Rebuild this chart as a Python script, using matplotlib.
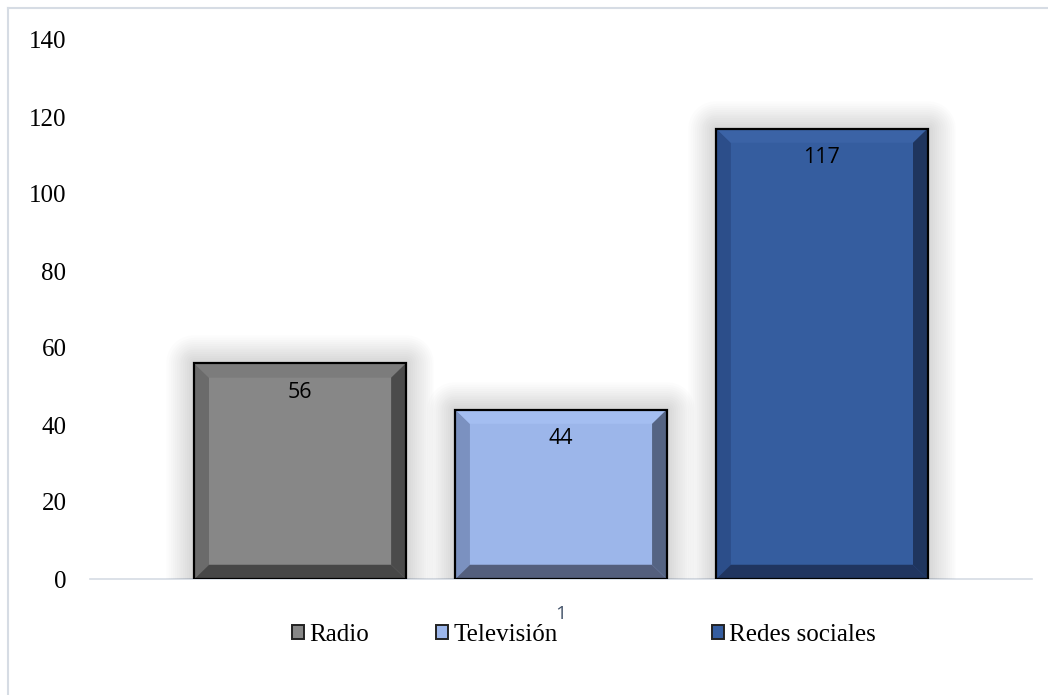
import numpy as np
import matplotlib
matplotlib.use("Agg")
import matplotlib.pyplot as plt
import matplotlib.patheffects as pe
from matplotlib.patches import Polygon, Patch
from matplotlib.lines import Line2D

# datos
categorias = ['Radio', 'Televisión', 'Redes sociales']
valores = [56, 44, 117]
yticks = [0, 20, 40, 60, 80, 100, 120, 140]
xlabel_cat = ['1']

# colores: cara, bisel sup, bisel izq, bisel der, bisel inf
colores = [
    ['#878787', '#7c7c7c', '#6b6b6b', '#4b4b4b', '#474747'],
    ['#9cb6ea', '#a4bef1', '#7b91c0', '#556483', '#545f7d'],
    ['#355d9f', '#3b63a6', '#2c4e8a', '#1f355e', '#203560'],
]

fig = plt.figure(figsize=(10.48, 6.95), dpi=100)
ax = fig.add_axes([90 / 1048, 1 - 579 / 695, (1032 - 90) / 1048, (579 - 40) / 695])

x = np.arange(len(valores)) - 1
ancho = 0.81

# sombra difusa alrededor de las barras
glow = [pe.Stroke(linewidth=lw, foreground='black', alpha=0.012, joinstyle='round')
        for lw in range(40, 2, -3)] + [pe.Normal()]

for i, v in enumerate(valores):
    cara, sup, izq, der, inf = colores[i]
    b = ax.bar(x[i], v, width=ancho, color=cara, edgecolor='none', zorder=2)
    b[0].set_path_effects(glow)

    x0 = x[i] - ancho / 2
    x1 = x[i] + ancho / 2
    bx = 0.056
    by = 3.7
    ax.add_patch(Polygon([(x0, 0), (x0, v), (x0 + bx, v - by), (x0 + bx, by)],
                         closed=True, facecolor=izq, edgecolor='none', zorder=3))
    ax.add_patch(Polygon([(x0, v), (x1, v), (x1 - bx, v - by), (x0 + bx, v - by)],
                         closed=True, facecolor=sup, edgecolor='none', zorder=3))
    ax.add_patch(Polygon([(x1, v), (x1, 0), (x1 - bx, by), (x1 - bx, v - by)],
                         closed=True, facecolor=der, edgecolor='none', zorder=3))
    ax.add_patch(Polygon([(x0, 0), (x1, 0), (x1 - bx, by), (x0 + bx, by)],
                         closed=True, facecolor=inf, edgecolor='none', zorder=3))
    ax.bar(x[i], v, width=ancho, fill=False, edgecolor='black', linewidth=1.6, zorder=4)

    ax.annotate(str(v), (x[i], v), xytext=(0, -21), textcoords='offset points',
                ha='center', va='center', fontsize=15.5, family='Open Sans',
                color='black', zorder=5)

ax.set_xlim(-1.805, 1.805)
ax.set_ylim(0, 140)
ax.set_yticks(yticks)
ax.set_yticklabels([str(t) for t in yticks], family='Liberation Serif', fontsize=18)
ax.tick_params(axis='y', length=0, pad=17)
ax.set_xticks([0])
ax.set_xticklabels(xlabel_cat, family='Open Sans', fontsize=14, color='#44546a')
ax.tick_params(axis='x', length=0, pad=19)

for s in ['top', 'right', 'left']:
    ax.spines[s].set_visible(False)
ax.spines['bottom'].set_color('#d6dce4')
ax.spines['bottom'].set_linewidth(1.2)
ax.spines['bottom'].set_zorder(1)

# leyenda
pos_leg = [296, 440, 716]
for i, cat in enumerate(categorias):
    h = Patch(facecolor=colores[i][0], edgecolor='#222222', linewidth=1.4)
    fig.legend(handles=[h], labels=[cat], loc='center left',
               bbox_to_anchor=(pos_leg[i] / 1048 - 0.004, 1 - 635 / 695),
               frameon=False, handlelength=0.5, handleheight=0.5,
               handletextpad=0.2, borderpad=0, borderaxespad=0,
               prop={'family': 'Liberation Serif', 'size': 18})

# marco del gráfico
fig.add_artist(Line2D([8 / 1048, 8 / 1048], [0, 1 - 8 / 695], color='#d6dce4', linewidth=1.5))
fig.add_artist(Line2D([8 / 1048, 1], [1 - 8 / 695, 1 - 8 / 695], color='#d6dce4', linewidth=1.5))

fig.savefig('out.png', dpi=100, facecolor='white')
